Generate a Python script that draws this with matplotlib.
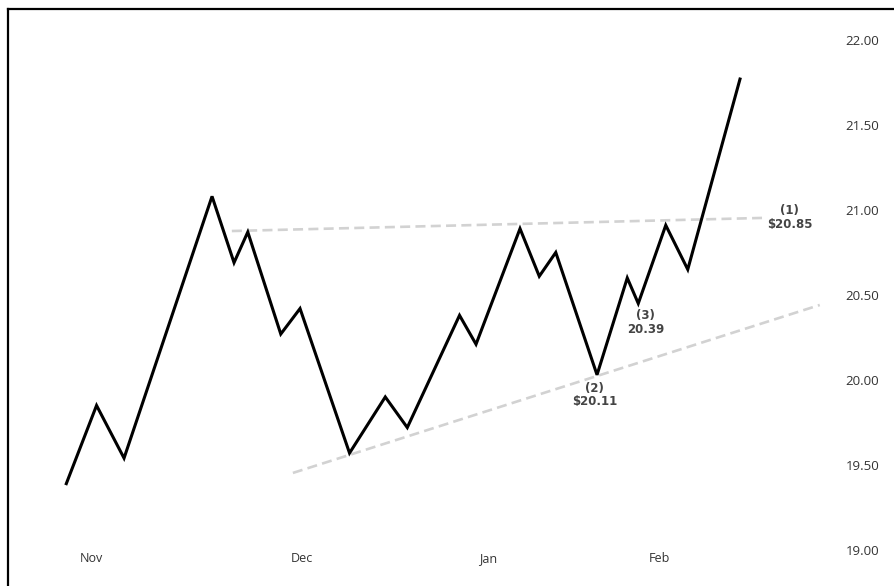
import matplotlib
matplotlib.use('Agg')
from matplotlib import pyplot as plt

# zigzag price path (x in days from the "Nov" label)
days = [-4.5, 1, 6, 22, 26, 28.5, 34.5, 38, 47, 53.5, 57.5, 67, 70,
        78, 81.5, 84.5, 92, 97.5, 99.5, 104.5, 108.5, 118]
prices = [19.39, 19.85, 19.54, 21.08, 20.69, 20.87, 20.27, 20.42, 19.57,
          19.90, 19.72, 20.38, 20.21, 20.89, 20.61, 20.75, 20.03, 20.60,
          20.45, 20.91, 20.65, 21.77]

# trend lines
upper_days = [25.6, 122]
upper_prices = [20.876, 20.953]
lower_days = [36.7, 132.5]
lower_prices = [19.453, 20.441]

month_pos = [0, 38.4, 72.2, 103.3]
month_names = ['Nov', 'Dec', 'Jan', 'Feb']
price_ticks = [19.0, 19.5, 20.0, 20.5, 21.0, 21.5, 22.0]

notes = ['(1)\n\\$20.85', '(2)\n\\$20.11', '(3)\n20.39']
note_days = [127, 91.6, 100.8]
note_prices = [20.956, 19.912, 20.338]


def main():
    fig = plt.figure(figsize=(8.94, 5.86), dpi=100)
    ax = fig.add_axes([8 / 894, 0, 1 - 8 / 894, 577 / 586])
    ax.set_xlim(-15.1, 146)
    ax.set_ylim(18.788, 22.182)

    ax.plot(upper_days, upper_prices, color='#d2d2d2', lw=1.9,
            dashes=(3.8, 2), zorder=1)
    ax.plot(lower_days, lower_prices, color='#d2d2d2', lw=1.9,
            dashes=(3.8, 2), zorder=1)
    ax.plot(days, prices, color='black', lw=2.2, zorder=2,
            solid_joinstyle='miter')

    for s, x, y in zip(notes, note_days, note_prices):
        ax.text(x, y, s, ha='center', va='center', fontsize=8.5,
                fontweight='bold', color='#444444', linespacing=1.05,
                family='DejaVu Sans')

    ax.spines['right'].set_visible(False)
    ax.spines['bottom'].set_visible(False)
    for side in ('left', 'top'):
        ax.spines[side].set_linewidth(1.6)
        ax.spines[side].set_color('black')

    ax.yaxis.tick_right()
    ax.set_yticks(price_ticks)
    ax.set_yticklabels(['{:.2f}'.format(v) for v in price_ticks])
    ax.set_xticks(month_pos)
    ax.set_xticklabels(month_names)
    ax.tick_params(axis='y', length=0, pad=-35, labelsize=9.5,
                   labelcolor='#333333')
    ax.tick_params(axis='x', length=0, pad=-17.5, labelsize=9,
                   labelcolor='#333333')
    for lab in ax.get_xticklabels() + ax.get_yticklabels():
        lab.set_family('Open Sans')
    for lab in ax.get_xticklabels():
        lab.set_verticalalignment('baseline')

    fig.savefig('out.png', dpi=100)


if __name__ == '__main__':
    main()
